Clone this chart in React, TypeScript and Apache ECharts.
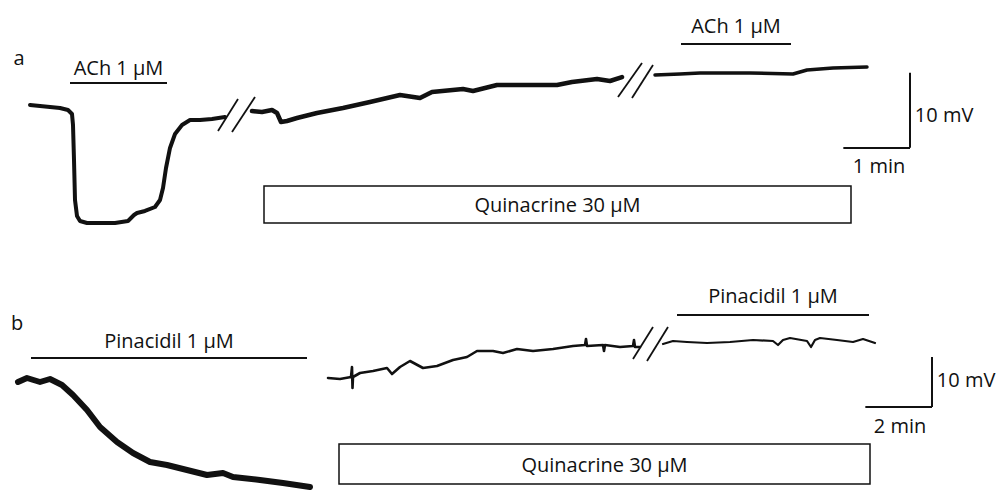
import React, { useEffect, useRef } from "react";
import * as echarts from "echarts";

// ---------- data (time in min, membrane potential in mV relative to start) ----------
// Panel a: 1 min time scale
const traceA1: [number, number][] = [
  [0.45, 0.0], [0.6, -0.13], [0.75, -0.27], [0.9, -0.4], [1.02, -0.67], [1.08, -1.2],
  [1.095, -2.67], [1.11, -7.33], [1.125, -12.67], [1.155, -14.8], [1.2, -15.47],
  [1.305, -15.73], [1.5, -15.73], [1.725, -15.73], [1.92, -15.47], [2.01, -14.67],
  [2.055, -14.4], [2.175, -14.13], [2.325, -13.6], [2.4, -12.67], [2.445, -11.07],
  [2.49, -8.4], [2.55, -5.73], [2.625, -3.87], [2.73, -2.67], [2.85, -2.0], [3.0, -2.0],
  [3.18, -1.87], [3.375, -1.6],
];
const traceA2: [number, number][] = [
  [3.78, -0.8], [3.93, -0.93], [4.08, -0.67], [4.155, -1.07], [4.215, -2.27], [4.305, -2.13],
  [4.455, -1.73], [4.755, -1.07], [5.145, -0.4], [5.55, 0.4], [6.0, 1.33], [6.3, 0.93],
  [6.48, 1.73], [6.945, 2.13], [7.095, 1.87], [7.455, 2.67], [7.95, 2.67], [8.355, 2.67],
  [8.58, 3.07], [8.955, 3.47], [9.15, 3.2], [9.33, 3.73],
];
const traceA3: [number, number][] = [
  [9.825, 4.0], [10.2, 4.13], [10.5, 4.27], [11.25, 4.27], [11.895, 4.13], [12.105, 4.67],
  [12.495, 4.93], [13.005, 5.07],
];
// Panel b: 2 min time scale
const traceB1: [number, number][] = [
  [0.54, -0.4], [0.81, 0.4], [1.2, -0.4], [1.5, 0.2], [1.86, -1.0], [2.19, -3.0], [2.61, -6.0],
  [3.0, -9.4], [3.51, -12.4], [3.99, -14.6], [4.5, -16.4], [5.01, -17.0], [5.61, -18.0],
  [6.21, -19.0], [6.69, -18.6], [6.99, -19.4], [7.8, -20.0], [8.49, -20.6], [9.3, -21.4],
];
const traceB2: [number, number][] = [
  [9.84, 0.4], [10.2, 0.2], [10.53, 0.6], [10.56, 2.6], [10.575, -1.6], [10.59, 0.6],
  [10.8, 1.4], [11.19, 1.8], [11.61, 2.4], [11.76, 1.2], [12.0, 2.6], [12.3, 3.8],
  [12.69, 2.4], [13.11, 2.8], [13.59, 4.0], [14.01, 4.6], [14.31, 5.8], [14.79, 5.8],
  [15.09, 5.4], [15.51, 6.2], [15.99, 5.8], [16.59, 6.2], [17.19, 6.8], [17.55, 7.0],
  [17.58, 8.2], [17.61, 6.8], [18.09, 7.0], [18.12, 5.8], [18.15, 7.0], [18.6, 6.6],
  [18.99, 6.8], [19.02, 8.0], [19.05, 6.6], [19.2, 6.6],
];
const traceB3: [number, number][] = [
  [19.89, 7.2], [20.19, 7.8], [20.61, 7.6], [21.21, 7.4], [21.9, 7.6], [22.59, 8.0],
  [23.19, 7.8], [23.34, 7.0], [23.49, 8.0], [23.7, 8.4], [24.21, 7.8], [24.33, 6.6],
  [24.45, 8.0], [24.6, 8.4], [25.11, 8.0], [25.59, 7.6], [25.89, 8.2], [26.25, 7.4],
];

// drug applications: [start min, end min, bar level mV]
const achBars: [number, number, number][] = [[1.05, 2.505, 2.93], [10.215, 11.865, 8.13]];
const pinBars: [number, number, number][] = [[0.93, 9.21, 4.4], [20.31, 26.07, 13.0]];
// quinacrine boxes: [start, end, top mV, bottom mV]
const quinA: [number, number, number, number] = [3.96, 12.765, -10.8, -15.73];
const quinB: [number, number, number, number] = [10.17, 26.1, -12.8, -20.8];
// axis breaks "//": pairs of end points
const breaksA: [number, number][][] = [
  [[3.27, -3.47], [3.57, 0.8]], [[3.48, -3.6], [3.825, 1.07]],
  [[9.27, 1.07], [9.63, 5.6]], [[9.48, 0.93], [9.795, 5.33]],
];
const breaksB: [number, number][][] = [
  [[18.99, 4.2], [19.59, 10.6]], [[19.41, 3.8], [20.04, 10.6]],
];
// scale bars: [x end, x length (min), y bottom, y length (mV)]
const scaleA: [number, number, number, number] = [13.65, 1, -5.7, 10];
const scaleB: [number, number, number, number] = [27.96, 2, -5.4, 10];

const achLabel = "ACh 1 μM";
const pinLabel = "Pinacidil 1 μM";
const quinLabel = "Quinacrine 30 μM";
const panelLabels = ["a", "b"];

const FONT = '"Open Sans", "Noto Sans", sans-serif';
const INK = "#111";
const txt = { color: INK, fontSize: 20, fontFamily: FONT };

function barItems(bars: [number, number, number][], label: string, dists: number[]) {
  return bars.map((b, i) => [
    {
      coord: [b[0], b[2]],
      label: { show: true, position: "insideMiddleTop", distance: dists[i], formatter: () => label, ...txt },
    },
    { coord: [b[1], b[2]] },
  ]);
}
function breakItems(br: [number, number][][]) {
  return br.map((s) => [{ coord: s[0], lineStyle: { width: 1.8 } }, { coord: s[1] }]);
}
function scaleItems(s: [number, number, number, number]) {
  return [
    [{ coord: [s[0], s[2]] }, { coord: [s[0], s[2] + s[3]] }],
    [{ coord: [s[0] - s[1], s[2]] }, { coord: [s[0], s[2]] }],
  ];
}
function textPoint(coord: [number, number], text: string, position: string) {
  return {
    coord,
    symbol: "rect",
    symbolSize: 1,
    itemStyle: { color: "rgba(0,0,0,0)" },
    label: { show: true, position, distance: 1, formatter: () => text, ...txt },
  };
}

function trace(data: [number, number][], idx: number, width: number, extra: any = {}) {
  return {
    type: "line",
    xAxisIndex: idx,
    yAxisIndex: idx,
    data,
    symbol: "none",
    showSymbol: false,
    silent: true,
    animation: false,
    lineStyle: { color: INK, width, join: "round", cap: "round" },
    ...extra,
  };
}

function marks(
  bars: any[], br: any[], sc: [number, number, number, number], quin: [number, number, number, number],
  texts: any[]
) {
  return {
    markLine: {
      silent: true,
      animation: false,
      symbol: ["none", "none"],
      label: { show: false },
      lineStyle: { color: INK, type: "solid", width: 2 },
      data: [...bars, ...br, ...scaleItems(sc)],
    },
    markArea: {
      silent: true,
      animation: false,
      itemStyle: { color: "#fff", borderColor: INK, borderWidth: 1.5 },
      label: { show: true, position: "inside", formatter: () => quinLabel, ...txt },
      data: [[{ coord: [quin[0], quin[2]] }, { coord: [quin[1], quin[3]] }]],
    },
    markPoint: { silent: true, animation: false, data: texts },
  };
}

export default function App() {
  const ref = useRef<HTMLDivElement>(null);
  useEffect(() => {
    if (!ref.current) return;
    const chart = echarts.init(ref.current, undefined, { renderer: "svg" });
    const option: any = {
      animation: false,
      backgroundColor: "#fff",
      grid: [
        { left: 0, width: 1000, top: 0, height: 240 },
        { left: 0, width: 1000, top: 250, height: 240 },
      ],
      xAxis: [
        { type: "value", gridIndex: 0, min: 0, max: 15, show: false },
        { type: "value", gridIndex: 1, min: 0, max: 30, show: false },
      ],
      yAxis: [
        { type: "value", gridIndex: 0, min: -18, max: 14, show: false },
        { type: "value", gridIndex: 1, min: -22, max: 26, show: false },
      ],
      graphic: [
        { type: "text", x: 19, y: 57, style: { text: panelLabels[0], fill: INK, fontSize: 20, fontFamily: FONT, align: "center", verticalAlign: "middle" } },
        { type: "text", x: 17, y: 322, style: { text: panelLabels[1], fill: INK, fontSize: 20, fontFamily: FONT, align: "center", verticalAlign: "middle" } },
      ],
      series: [
        trace(traceA1, 0, 4, marks(
          barItems(achBars, achLabel, [6, 9]), breakItems(breaksA), scaleA, quinA,
          [
            textPoint([scaleA[0] + 0.05, -1.3], "10 mV", "right"),
            textPoint([scaleA[0] - 0.465, -8.13], "1 min", "inside"),
          ]
        )),
        trace(traceA2, 0, 4.5),
        trace(traceA3, 0, 3.5),
        trace(traceB1, 1, 6, marks(
          barItems(pinBars, pinLabel, [8, 9.5]), breakItems(breaksB), scaleB, quinB,
          [
            textPoint([scaleB[0] + 0.1, 0.2], "10 mV", "right"),
            textPoint([scaleB[0] - 0.96, -9.0], "2 min", "inside"),
          ]
        )),
        trace(traceB2, 1, 2.6),
        trace(traceB3, 1, 2.2),
      ],
    };
    chart.setOption(option);
    return () => chart.dispose();
  }, []);
  return (
    <div
      ref={ref}
      style={{ position: "fixed", left: 0, top: 0, width: 1001, height: 490, background: "#fff" }}
    />
  );
}
